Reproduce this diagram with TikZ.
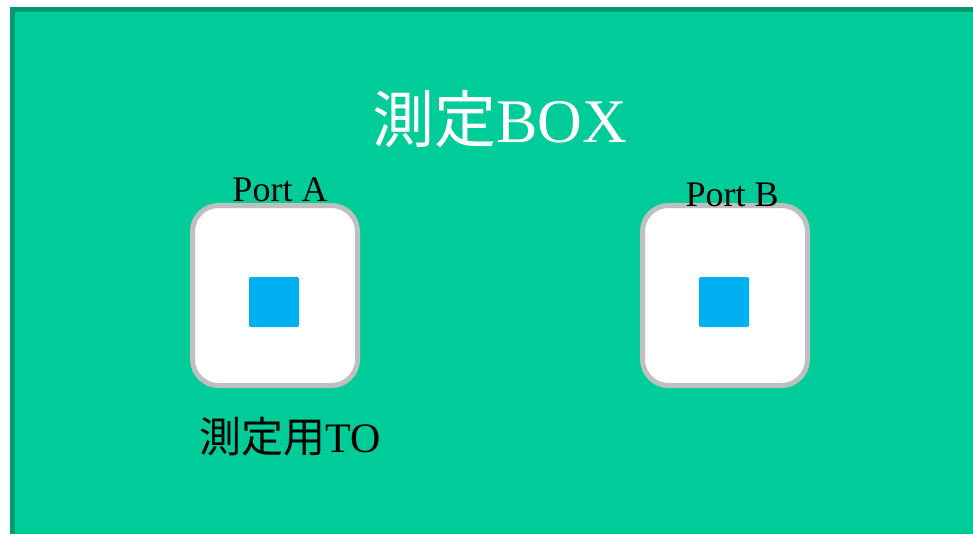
\documentclass[tikz,border=0pt]{standalone}
\usepackage{fontspec}
\setmainfont{Liberation Serif}
\newfontfamily\cjk{Noto Sans CJK JP}
\definecolor{boxfill}{HTML}{00CC99}
\definecolor{boxedge}{HTML}{009973}
\definecolor{portedge}{HTML}{BFBFBF}
\definecolor{pin}{HTML}{00B0F0}
\tikzset{
  portbox/.style={draw=portedge, fill=white, line width=5pt, rounded corners=26pt,
    minimum width=165pt, minimum height=180pt, inner sep=0pt},
  pinsq/.style={fill=pin, rounded corners=2pt, minimum width=50pt, minimum height=50pt, inner sep=0pt},
  portlabel/.style={anchor=base, inner sep=0pt, font=\fontsize{36}{36}\selectfont},
}
\begin{document}
\begin{tikzpicture}[x=1pt,y=-1pt]
\useasboundingbox (0,0) rectangle (973,533);
\draw[boxedge, fill=boxfill, line width=5pt] (12.5,9.5) rectangle (990,550);
\node[anchor=base, inner sep=0pt, text=white, font=\fontsize{62}{62}\selectfont] (title) at (500,142) {{\cjk 測定}BOX};
\node[portbox] (boxA) at (275,295.5) {};
\node[portbox] (boxB) at (725,295.5) {};
\node[pinsq] (pinA) at (274,302) {};
\node[pinsq] (pinB) at (724,302) {};
\node[portlabel] (labA) at (280,201) {Port A};
\node[portlabel] (labB) at (732,206) {Port B};
\node[anchor=base, inner sep=0pt, font=\fontsize{42}{42}\selectfont] (to) at (290,452) {{\cjk 測定用}TO};
\end{tikzpicture}
\end{document}
